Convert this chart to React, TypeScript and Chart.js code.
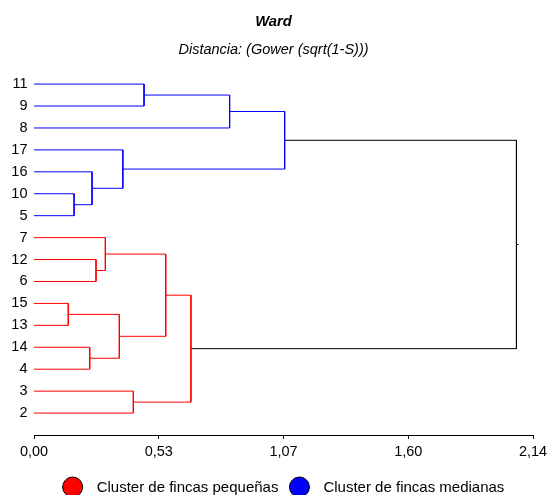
import React, { useEffect, useRef } from 'react';
import { Chart, registerables } from 'chart.js';

Chart.register(...registerables);

const FONT = '"Liberation Sans", Arial, Helvetica, sans-serif';

const titleText = 'Ward';
const subtitleText = 'Distancia: (Gower (sqrt(1-S)))';

// leaves, top to bottom
const leafLabels = ['11', '9', '8', '17', '16', '10', '5', '7', '12', '6', '15', '13', '14', '4', '3', '2'];

// merges: node ids 0..15 are leaves, merge k creates node 16 + k
const mergeLeft = [0, 16, 5, 4, 3, 17, 8, 7, 10, 12, 24, 23, 14, 27, 21];
const mergeRight = [1, 2, 6, 18, 19, 20, 9, 22, 11, 13, 25, 26, 15, 28, 29];
const mergeHeight = [0.472, 0.839, 0.172, 0.249, 0.381, 1.075, 0.266, 0.306, 0.147, 0.239, 0.366, 0.565, 0.426, 0.673, 2.069];
const mergeCluster = [1, 1, 1, 1, 1, 1, 0, 0, 0, 0, 0, 0, 0, 0, 2]; // 0 red, 1 blue, 2 root
const clusterColors = ['#FF0000', '#0000FF', '#000000'];
const rootStub = 0.009;

const legendLabels = ['Cluster de fincas pequeñas', 'Cluster de fincas medianas'];
const legendColors = ['#FF0000', '#0000FF'];

const xTickValues = [0, 0.535, 1.07, 1.605, 2.14];
const xTickLabels = ['0,00', '0,53', '1,07', '1,60', '2,14'];
const xMax = 2.14;

function buildDatasets() {
  const nodeX: number[] = leafLabels.map(() => 0);
  const nodeY: number[] = leafLabels.map((_, i) => i);
  const series: any[][] = clusterColors.map(() => []);
  mergeHeight.forEach((h, k) => {
    const a = mergeLeft[k];
    const b = mergeRight[k];
    const ya = nodeY[a];
    const yb = nodeY[b];
    const pts = series[mergeCluster[k]];
    pts.push({ x: nodeX[a], y: ya }, { x: h, y: ya }, { x: h, y: yb }, { x: nodeX[b], y: yb }, { x: h, y: null });
    nodeX.push(h);
    nodeY.push((ya + yb) / 2);
  });
  const rootIdx = nodeX.length - 1;
  series[2].push({ x: nodeX[rootIdx], y: nodeY[rootIdx] }, { x: nodeX[rootIdx] + rootStub, y: nodeY[rootIdx] });
  return series.map((data, i) => ({
    data,
    showLine: true,
    borderColor: clusterColors[i],
    backgroundColor: clusterColors[i],
    borderWidth: 1,
    pointRadius: 0,
    pointHoverRadius: 0,
    spanGaps: false,
    clip: false,
  }));
}

const legendPlugin = {
  id: 'clusterLegend',
  afterDraw(chart: any) {
    const ctx = chart.ctx;
    const area = chart.chartArea;
    ctx.save();
    ctx.font = `15px ${FONT}`;
    const r = 10;
    const gapText = 14;
    const gapItem = 11;
    const widths = legendLabels.map((t) => ctx.measureText(t).width);
    const total = widths.reduce((s, w) => s + 2 * r + gapText + w, 0) + gapItem * (legendLabels.length - 1);
    let x = (area.left + area.right) / 2 - total / 2;
    const y = area.bottom + 52;
    legendLabels.forEach((t, i) => {
      ctx.beginPath();
      ctx.arc(x + r, y, r, 0, Math.PI * 2);
      ctx.fillStyle = legendColors[i];
      ctx.fill();
      ctx.lineWidth = 1;
      ctx.strokeStyle = '#000';
      ctx.stroke();
      ctx.fillStyle = '#000';
      ctx.textBaseline = 'middle';
      ctx.textAlign = 'left';
      ctx.fillText(t, x + 2 * r + gapText, y + 0.5);
      x += 2 * r + gapText + widths[i] + gapItem;
    });
    ctx.restore();
  },
};

export default function App() {
  const ref = useRef<HTMLCanvasElement | null>(null);
  useEffect(() => {
    if (!ref.current) return;
    const chart = new Chart(ref.current, {
      type: 'scatter',
      data: { datasets: buildDatasets() as any },
      options: {
        responsive: false,
        animation: false,
        devicePixelRatio: 1,
        layout: { padding: { left: 0, right: 0, top: 0, bottom: 0 } },
        plugins: {
          legend: { display: false },
          tooltip: { enabled: false },
          title: {
            display: true,
            text: titleText,
            color: '#000',
            font: { family: FONT, size: 14.8, weight: 'bold', style: 'italic' },
            padding: { top: 13.2, bottom: 0 },
          },
          subtitle: {
            display: true,
            text: subtitleText,
            color: '#000',
            font: { family: FONT, size: 14.5, style: 'italic' },
            padding: { top: 10.6, bottom: 3.2 },
          },
        },
        scales: {
          x: {
            type: 'linear',
            position: 'bottom',
            min: 0,
            max: xMax,
            afterBuildTicks: (scale: any) => {
              scale.ticks = xTickValues.map((v) => ({ value: v }));
            },
            afterFit: (scale: any) => {
              scale.height = 60;
              scale.paddingLeft = 0;
              scale.paddingRight = 14;
            },
            grid: { drawOnChartArea: false, drawTicks: true, tickLength: 4, color: '#000', tickColor: '#000' },
            border: { display: true, color: '#000', width: 1 },
            ticks: {
              color: '#000',
              font: { family: FONT, size: 14.5 },
              padding: 4.3,
              maxRotation: 0,
              autoSkip: false,
              callback: (_v: any, i: number) => xTickLabels[i],
            },
          },
          y: {
            type: 'linear',
            reverse: true,
            min: -1,
            max: 16,
            afterBuildTicks: (scale: any) => {
              scale.ticks = leafLabels.map((_, i) => ({ value: i }));
            },
            afterFit: (scale: any) => {
              scale.width = 34;
              scale.paddingTop = 0;
              scale.paddingBottom = 0;
            },
            grid: { display: false, drawTicks: false },
            border: { display: false },
            ticks: {
              color: '#000',
              font: { family: FONT, size: 14.5 },
              padding: 6.5,
              autoSkip: false,
              callback: (v: any) => leafLabels[v as number],
            },
          },
        },
      } as any,
      plugins: [legendPlugin],
    });
    return () => chart.destroy();
  }, []);
  return (
    <div style={{ position: 'absolute', left: 0, top: 0, width: 547, height: 495 }}>
      <canvas ref={ref} width={547} height={495} style={{ display: 'block' }} />
    </div>
  );
}
